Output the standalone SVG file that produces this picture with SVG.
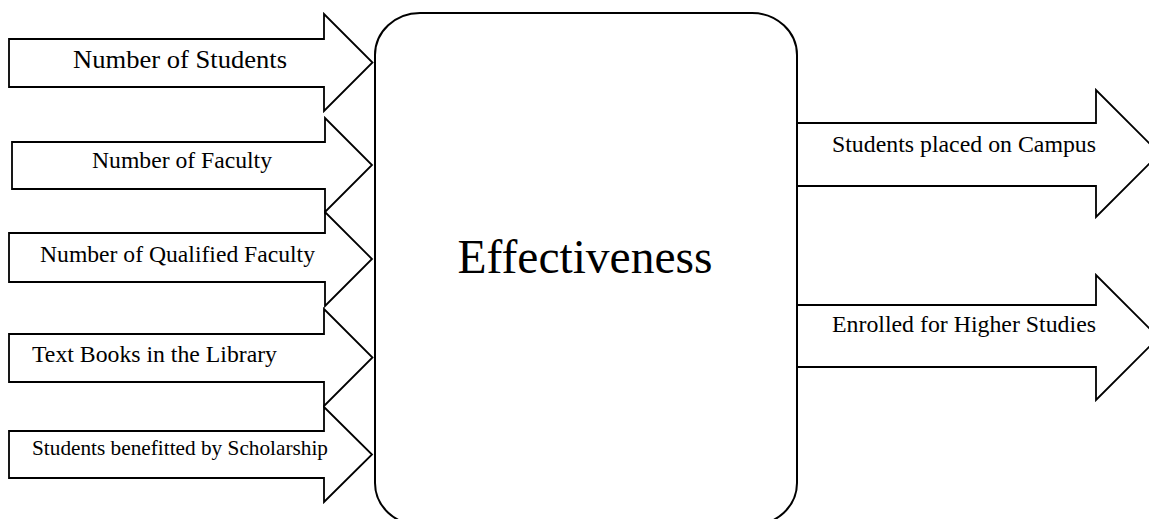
<svg xmlns="http://www.w3.org/2000/svg" width="1149" height="519" viewBox="0 0 1149 519">
<style>
.arrow{fill:#fff;stroke:#000;stroke-width:1.8;stroke-linejoin:miter}
.box{fill:#fff;stroke:#000;stroke-width:2}
.lbl{font-family:"Liberation Serif","Times New Roman",serif;fill:#000}
</style>
<rect width="1149" height="519" fill="#fff"/>
<g id="connectors">
<g id="in-students"><polygon class="arrow" points="9,39 324,39 324,14 372.5,62.5 324,111 324,87 9,87"/><text class="lbl" x="73" y="68" font-size="26" textLength="214" lengthAdjust="spacingAndGlyphs">Number of Students</text></g>
<g id="in-faculty"><polygon class="arrow" points="12,142 325,142 325,118 372,165 325,212 325,189 12,189"/><text class="lbl" x="92" y="168" font-size="23" textLength="180" lengthAdjust="spacingAndGlyphs">Number of Faculty</text></g>
<g id="in-qualified"><polygon class="arrow" points="9,233 325,233 325,212 372,259 325,306 325,282 9,282"/><text class="lbl" x="40" y="262" font-size="23" textLength="275" lengthAdjust="spacingAndGlyphs">Number of Qualified Faculty</text></g>
<g id="in-books"><polygon class="arrow" points="9,334 324,334 324,309 372.5,357.5 324,406 324,382 9,382"/><text class="lbl" x="32" y="362" font-size="23" textLength="245" lengthAdjust="spacingAndGlyphs">Text Books in the Library</text></g>
<g id="in-scholarship"><polygon class="arrow" points="9,431 324,431 324,407 372,454.5 324,502 324,478 9,478"/><text class="lbl" x="32" y="455" font-size="21" textLength="296" lengthAdjust="spacingAndGlyphs">Students benefitted by Scholarship</text></g>
<g id="out-campus"><polygon class="arrow" points="797,123 1096,123 1096,90 1159.5,153.5 1096,217 1096,186 797,186"/><text class="lbl" x="832" y="152" font-size="24" textLength="264" lengthAdjust="spacingAndGlyphs">Students placed on Campus</text></g>
<g id="out-higher"><polygon class="arrow" points="797,305 1096,305 1096,275 1158.5,337.5 1096,400 1096,367 797,367"/><text class="lbl" x="832" y="332" font-size="24" textLength="264" lengthAdjust="spacingAndGlyphs">Enrolled for Higher Studies</text></g>
</g>
<g id="effectiveness">
<rect class="box" x="375" y="13" width="422" height="512" rx="45" ry="42"/>
<text class="lbl" x="585" y="273" font-size="47.5" text-anchor="middle">Effectiveness</text>
</g>
</svg>
